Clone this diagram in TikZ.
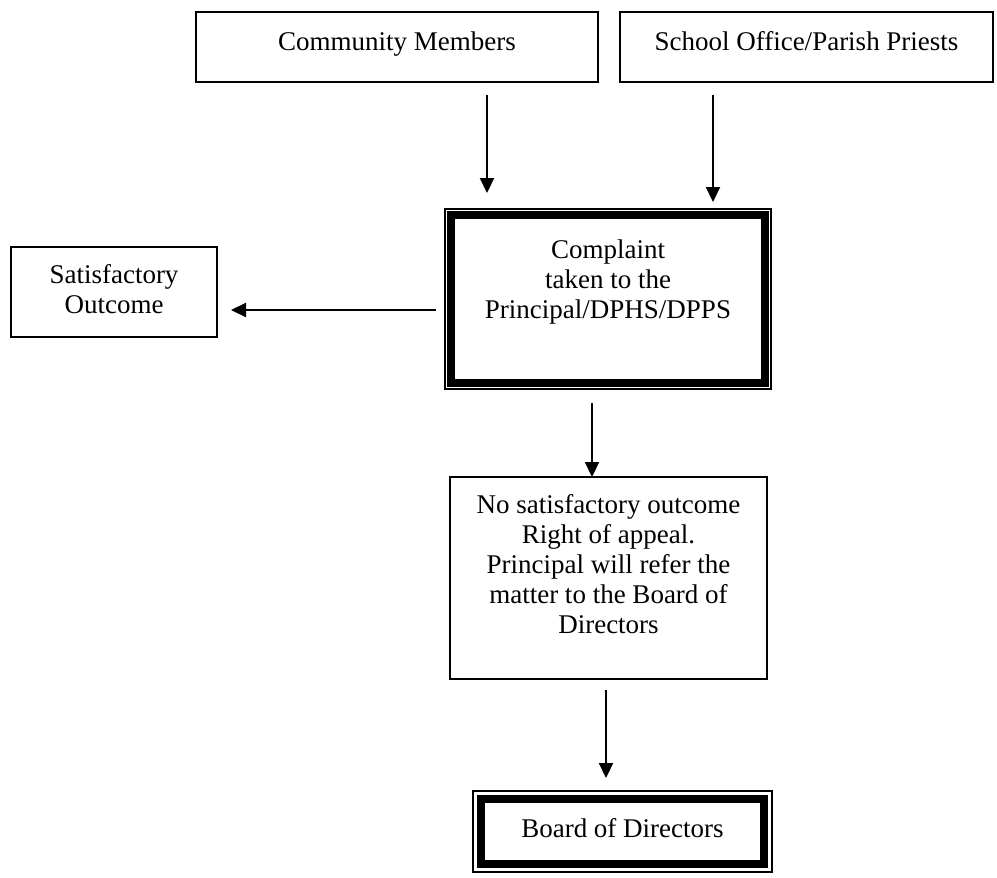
\documentclass[tikz,border=0pt]{standalone}
\usepackage{fontspec}
\setmainfont{Liberation Serif}
\usetikzlibrary{arrows.meta}
\newcommand{\bxtext}[4]{\parbox[c][#2pt][t]{#1pt}{\centering\vspace*{#3pt}\rule{0pt}{20pt}#4\par}}
\tikzset{
  plainbox/.style={draw, line width=1.5pt, inner sep=0pt, outer sep=0pt},
  dblbox/.style={draw, line width=1.3pt, inner sep=0pt, outer sep=0pt},
  thickframe/.style={line width=7.5pt},
  arr/.style={line width=2.2pt, -{Triangle[length=15pt,width=14pt]}},
}
\begin{document}
\begin{tikzpicture}[x=1pt,y=-1pt,font=\fontsize{27}{30}\selectfont]
\useasboundingbox (0,0) rectangle (997,878);

\node[plainbox] (cm) at (397,47) {\bxtext{402}{70}{18}{Community Members}};
\node[plainbox] (so) at (806.5,47) {\bxtext{373}{70}{18}{School Office/Parish Priests}};
\node[plainbox] (sat) at (114,292) {\bxtext{206}{90}{16}{Satisfactory\\Outcome}};
\node[dblbox] (comp) at (608,299) {\bxtext{326}{180}{29}{Complaint\\taken to the\\Principal/DPHS/DPPS}};
\draw[thickframe] ([shift={(6,6)}]comp.north west) rectangle ([shift={(-6,-6)}]comp.south east);
\node[plainbox] (no) at (608.5,578) {\bxtext{317}{202}{16}{No satisfactory outcome\\Right of appeal.\\Principal will refer the\\matter to the Board of\\Directors}};
\node[dblbox] (bd) at (622.5,831.5) {\bxtext{299}{81}{26}{Board of Directors}};
\draw[thickframe] ([shift={(8,8)}]bd.north west) rectangle ([shift={(-8,-8)}]bd.south east);

\coordinate (a1s) at (487,95);
\coordinate (a1e) at (487,193);
\coordinate (a2s) at (713,95);
\coordinate (a2e) at (713,202);
\coordinate (a3s) at (436,310);
\coordinate (a3e) at (231,310);
\coordinate (a4s) at (592,403);
\coordinate (a5s) at (606,690);
\coordinate (a5e) at (606,778);

\draw[arr] (a1s) -- (a1e);
\draw[arr] (a2s) -- (a2e);
\draw[arr] (a3s) -- (a3e);
\draw[arr] (a4s) -- (a4s |- no.north);
\draw[arr] (a5s) -- (a5e);
\end{tikzpicture}
\end{document}
